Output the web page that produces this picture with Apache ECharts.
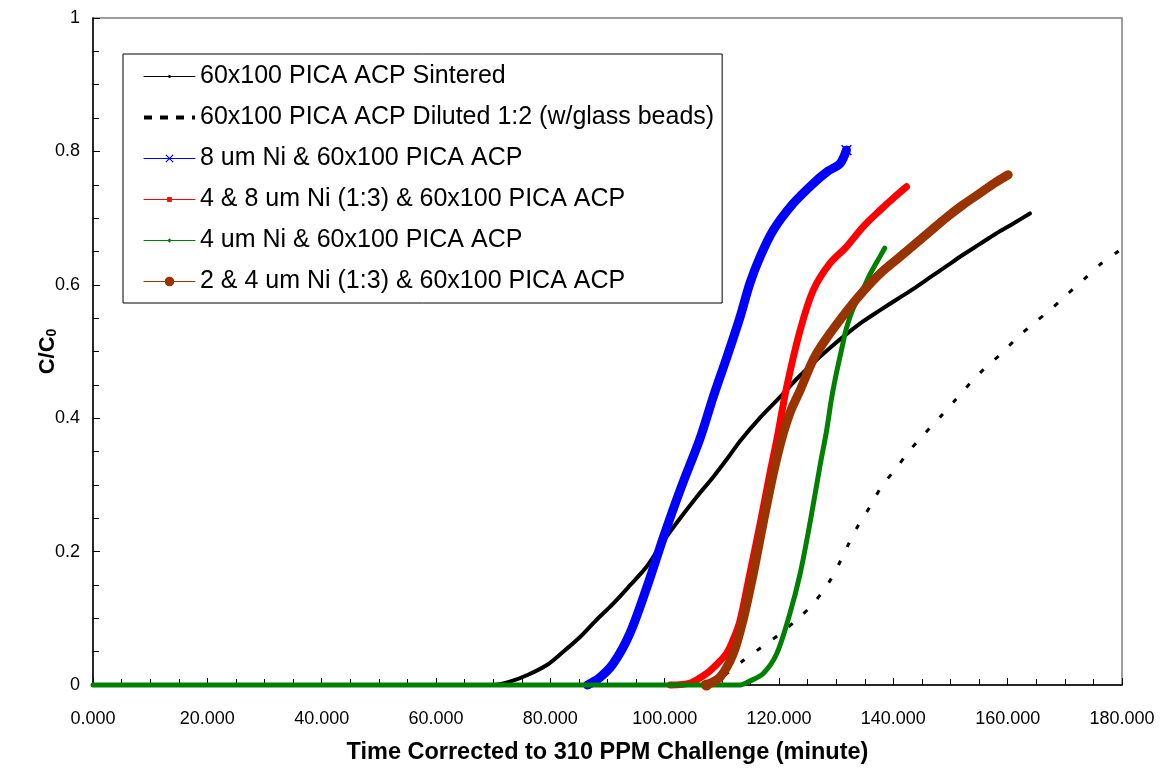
<!DOCTYPE html>
<html>
<head>
<meta charset="utf-8">
<script src="https://cdn.jsdelivr.net/npm/echarts@6/dist/echarts.min.js"></script>
<style>html,body{margin:0;padding:0;background:#fff}#c{width:1163px;height:771px}</style>
</head>
<body>
<div id="c"></div>
<script>
const seriesNames = [
  '60x100 PICA ACP Sintered',
  '60x100 PICA ACP Diluted 1:2 (w/glass beads)',
  '8 um Ni & 60x100 PICA ACP',
  '4 & 8 um Ni (1:3) & 60x100 PICA ACP',
  '4 um Ni & 60x100 PICA ACP',
  '2 & 4 um Ni (1:3) & 60x100 PICA ACP'
];
const xTicks = [0, 20, 40, 60, 80, 100, 120, 140, 160, 180];
const yTicks = [0, 0.2, 0.4, 0.6, 0.8, 1];

const sinteredX = [0, 70, 72.9, 76, 79.4, 82, 85.2, 88, 91, 94, 96.9, 99.8, 102.7, 105.6, 108.5, 111, 113.2, 116.7, 120.2, 123, 126, 129, 131.8, 134.7, 137.7, 140.6, 143.5, 146.4, 149.3, 152.2, 155.1, 158, 161, 163.9];
const sinteredY = [0, 0, 0.005, 0.015, 0.03, 0.048, 0.072, 0.097, 0.122, 0.15, 0.178, 0.216, 0.25, 0.282, 0.312, 0.34, 0.366, 0.401, 0.432, 0.458, 0.483, 0.506, 0.526, 0.545, 0.562, 0.578, 0.594, 0.611, 0.628, 0.645, 0.661, 0.677, 0.692, 0.707];

const dilutedX = [107.5, 110, 113.8, 117, 120.2, 123.4, 126, 128.6, 130.4, 132.1, 133.9, 135.9, 137.9, 140.5, 142.9, 145.5, 148.2, 150.8, 153.4, 156, 158.9, 161.6, 164.5, 167.4, 170.3, 173.2, 176.1, 179.3, 180];
const dilutedY = [0, 0.012, 0.037, 0.057, 0.077, 0.1, 0.122, 0.152, 0.18, 0.21, 0.24, 0.267, 0.297, 0.325, 0.352, 0.377, 0.402, 0.427, 0.452, 0.475, 0.497, 0.52, 0.542, 0.562, 0.585, 0.607, 0.63, 0.65, 0.655];

const ni8X = [86.5, 88.5, 91, 93.9, 96.9, 99.8, 102.7, 106.2, 108.5, 110.9, 113.2, 114.9, 116.7, 119, 122.5, 126, 128.5, 130.7, 131.8];
const ni8Y = [0, 0.01, 0.032, 0.077, 0.147, 0.222, 0.292, 0.37, 0.432, 0.492, 0.552, 0.602, 0.642, 0.682, 0.722, 0.752, 0.77, 0.782, 0.802];

const ni48X = [101, 104.5, 107.3, 109, 110.8, 112, 113.2, 114.9, 116.7, 118.4, 119.6, 121.3, 123.7, 126, 128.9, 131.8, 134.7, 137.7, 140, 142.3];
const ni48Y = [0, 0.003, 0.017, 0.03, 0.047, 0.068, 0.097, 0.167, 0.242, 0.317, 0.367, 0.445, 0.532, 0.592, 0.632, 0.657, 0.687, 0.712, 0.73, 0.747];

const ni4X = [0, 113, 114.9, 117.2, 119.6, 121.9, 123.7, 125.4, 127.2, 128.3, 129.2, 130.1, 131, 131.8, 133, 134.5, 136, 137.7, 138.5];
const ni4Y = [0, 0, 0.006, 0.017, 0.047, 0.107, 0.167, 0.242, 0.33, 0.38, 0.43, 0.47, 0.505, 0.535, 0.565, 0.59, 0.617, 0.643, 0.655];

const ni24X = [107.3, 109.7, 112, 113.7, 115.5, 117.2, 119, 120.5, 122, 123.7, 126, 128, 131.8, 134.7, 137.7, 140.6, 143.5, 146.4, 149.3, 152.2, 155.1, 157.6, 160.1];
const ni24Y = [0, 0.012, 0.047, 0.097, 0.167, 0.242, 0.317, 0.37, 0.41, 0.442, 0.488, 0.516, 0.56, 0.59, 0.617, 0.638, 0.659, 0.68, 0.701, 0.72, 0.737, 0.752, 0.765];

const colors = ['#000000', '#000000', '#0000ff', '#ff0000', '#008000', '#993300'];

const FONT = "'Liberation Sans', Arial, sans-serif";
const dotSym = 'path://M0,0M20,20M7,10a3,3 0 1,0 6,0a3,3 0 1,0 -6,0Z';
const xSym = 'path://M-1,-1M11,11M1,0L5,4L9,0L10,1L6,5L10,9L9,10L5,6L1,10L0,9L4,5L0,1Z';
const sqSym = 'path://M0,0M20,20M5,5L15,5L15,15L5,15Z';
const diaSym = 'path://M0,0M20,20M10,5.5L14.5,10L10,14.5L5.5,10Z';
const noSym = 'path://M0,0M20,20M10,10L10.01,10Z';

function pairs(xs, ys) { return xs.map((x, i) => [x, ys[i]]); }

const seriesDefs = [
  { x: sinteredX, y: sinteredY, width: 4, sym: dotSym },
  { x: dilutedX, y: dilutedY, width: 3, sym: noSym, dash: [5, 15] },
  { x: ni8X, y: ni8Y, width: 9, sym: xSym },
  { x: ni48X, y: ni48Y, width: 7, sym: sqSym },
  { x: ni4X, y: ni4Y, width: 5, sym: diaSym },
  { x: ni24X, y: ni24Y, width: 9, sym: 'circle' }
];

const series = seriesDefs.map((d, i) => ({
  name: seriesNames[i],
  type: 'line',
  data: pairs(d.x, d.y),
  symbol: d.sym,
  showSymbol: false,
  smooth: 0.3,
  clip: false,
  color: colors[i],
  lineStyle: { color: colors[i], width: d.width, type: d.dash || 'solid', cap: d.dash ? 'butt' : 'round', join: 'round' },
  itemStyle: { color: colors[i] },
  emphasis: { disabled: true },
  z: 2 + i
}));
series[2].markPoint = {
  silent: true, symbol: xSym, symbolSize: 13, label: { show: false },
  itemStyle: { color: colors[2] },
  data: [{ coord: [ni8X[ni8X.length - 1], ni8Y[ni8Y.length - 1]] }]
};
series[5].markPoint = {
  silent: true, symbol: 'circle', symbolSize: 11, label: { show: false },
  itemStyle: { color: colors[5] },
  data: [{ coord: [ni24X[0], ni24Y[0]] }]
};

const legendData = seriesNames.map((n, i) => ({
  name: n,
  lineStyle: i === 1 ? { width: 4, type: [8, 8], color: '#000' } : { width: 1, type: 'solid' },
  itemStyle: i === 1 ? { color: 'rgba(0,0,0,0)', borderWidth: 0 } : { borderWidth: 0 }
}));

const chart = echarts.init(document.getElementById('c'), null, { renderer: 'canvas' });
chart.setOption({
  animation: false,
  backgroundColor: '#ffffff',
  textStyle: { fontFamily: FONT },
  grid: { left: 93, right: 41, top: 18, bottom: 86, show: true, borderColor: '#808080', borderWidth: 1.5, backgroundColor: 'transparent' },
  legend: {
    orient: 'vertical', left: 123, top: 54,
    padding: [10, 8, 9, 19],
    itemWidth: 51, itemHeight: 12, itemGap: 16,
    selectedMode: false,
    backgroundColor: '#fff', borderColor: '#000', borderWidth: 1,
    textStyle: { fontSize: 25, color: '#000', fontFamily: FONT },
    data: legendData
  },
  xAxis: {
    type: 'value', min: xTicks[0], max: xTicks[xTicks.length - 1], interval: 20,
    name: 'Time Corrected to 310 PPM Challenge (minute)',
    nameLocation: 'middle', nameGap: 56,
    nameTextStyle: { fontSize: 23.5, fontWeight: 'bold', color: '#000', fontFamily: FONT },
    axisLine: { lineStyle: { color: '#000', width: 1.5 } },
    axisTick: { inside: true, length: 7, lineStyle: { color: '#000', width: 1 } },
    minorTick: { show: true, splitNumber: 4, length: 6, lineStyle: { color: '#000', width: 1 } },
    splitLine: { show: false },
    axisLabel: { fontSize: 18, color: '#000', margin: 25, fontFamily: FONT, formatter: v => v.toFixed(3) }
  },
  yAxis: {
    type: 'value', min: yTicks[0], max: yTicks[yTicks.length - 1], interval: 0.2,
    name: '{a|C/C}{b|0}',
    nameLocation: 'middle', nameGap: 34, nameRotate: 90, nameMoveOverlap: false,
    nameTextStyle: {
      color: '#000', fontFamily: FONT,
      rich: {
        a: { fontSize: 22, fontWeight: 'bold', color: '#000', fontFamily: FONT },
        b: { fontSize: 14, fontWeight: 'bold', color: '#000', fontFamily: FONT, verticalAlign: 'bottom', padding: [8, 0, 0, 0] }
      }
    },
    axisLine: { show: true, lineStyle: { color: '#000', width: 1.5 } },
    axisTick: { inside: true, length: 7, lineStyle: { color: '#000', width: 1 } },
    minorTick: { show: true, splitNumber: 4, length: 6, lineStyle: { color: '#000', width: 1 } },
    splitLine: { show: false },
    axisLabel: { fontSize: 18, color: '#000', margin: 13, fontFamily: FONT }
  },
  series: series
});
</script>
</body>
</html>
